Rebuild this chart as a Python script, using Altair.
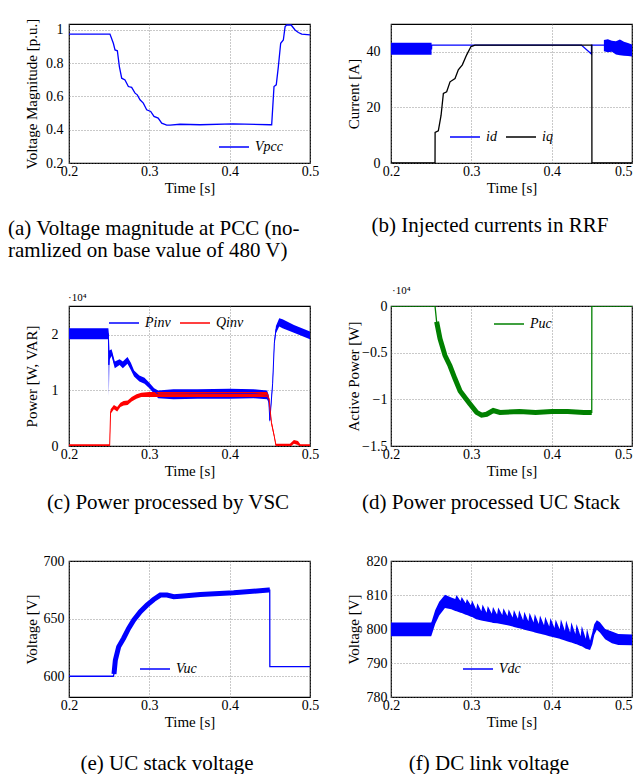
import altair as alt
import pandas as pd

FONT = "Liberation Serif"
XT = [0.2, 0.3, 0.4, 0.5]

# (a) voltage magnitude at PCC [p.u.]
va_t = [0.2, 0.251, 0.2552, 0.2573, 0.2602, 0.2627, 0.2656, 0.2697, 0.2739, 0.278, 0.2822, 0.285,
        0.2884, 0.2925, 0.2967, 0.3017, 0.3058, 0.311, 0.3154, 0.3216, 0.3258, 0.3382, 0.3631, 0.404,
        0.4503, 0.4523, 0.4552, 0.458, 0.4606, 0.4635, 0.4668, 0.469, 0.471, 0.4765, 0.4814, 0.4855,
        0.4897, 0.5]
va_v = [0.975, 0.975, 0.92, 0.88, 0.875, 0.78, 0.71, 0.70, 0.66, 0.655, 0.62, 0.61,
        0.58, 0.56, 0.52, 0.51, 0.48, 0.47, 0.44, 0.428, 0.428, 0.433, 0.43, 0.435,
        0.43, 0.43, 0.66, 0.67, 0.78, 0.92, 0.94, 1.02, 1.03, 1.03, 1.0, 0.985,
        0.975, 0.97]

# (b) currents in RRF [A]
id_t = [0.2, 0.2505, 0.2506, 0.4370, 0.4495, 0.4496, 0.4650, 0.5]
id_v = [41.1, 41.1, 42.4, 42.4, 39.2, 42.4, 42.4, 41.6]
idr_seg = ["a", "a", "b", "b", "b", "b", "b", "b", "b", "b"]
idr_t = [0.2, 0.2505, 0.465, 0.47, 0.475, 0.48, 0.485, 0.49, 0.495, 0.5]
idr_lo = [38.9, 38.9, 40.2, 39.8, 40.0, 39.0, 38.8, 38.6, 38.5, 38.3]
idr_hi = [43.3, 43.3, 44.2, 44.5, 44.0, 43.8, 44.4, 43.6, 43.2, 42.6]
iq_t = [0.2, 0.2548, 0.2549, 0.2589, 0.2623, 0.2652, 0.2693, 0.2735, 0.2797, 0.2838, 0.2888,
        0.2942, 0.2996, 0.3046, 0.4500, 0.4501, 0.5]
iq_v = [0, 0, 11.0, 11.6, 17.1, 25.0, 25.6, 29.2, 30.4, 33.5, 35.3, 38.9, 41.9, 42.4, 42.4, 0, 0]

# (c) power processed by VSC [x10^4 W, VAR]
p_t = [0.2, 0.249, 0.2496, 0.2503, 0.253, 0.257, 0.263, 0.267, 0.2728, 0.277, 0.281, 0.2876,
       0.294, 0.300, 0.306, 0.311, 0.330, 0.360, 0.400, 0.430, 0.4465, 0.4486, 0.4500, 0.4535,
       0.4556, 0.4576, 0.4617, 0.4658, 0.480, 0.490, 0.5]
p_lo = [1.92, 1.92, 0.90, 1.55, 1.62, 1.40, 1.46, 1.40, 1.48, 1.37, 1.25, 1.16, 1.12, 1.04, 0.94,
        0.86, 0.84, 0.85, 0.85, 0.86, 0.84, 0.78, 0.42, 1.08, 1.80, 2.03, 2.15, 2.12, 2.04, 1.98, 1.92]
p_hi = [2.12, 2.12, 2.02, 1.72, 1.74, 1.52, 1.56, 1.52, 1.60, 1.50, 1.36, 1.27, 1.23, 1.14, 1.04,
        1.00, 1.02, 1.02, 1.03, 1.02, 1.00, 0.92, 0.50, 1.18, 1.90, 2.16, 2.30, 2.28, 2.18, 2.12, 2.06]
q_t = [0.2, 0.2506, 0.2518, 0.2559, 0.2600, 0.2640, 0.2680, 0.2730, 0.2780, 0.2840, 0.2900, 0.3000,
       0.3500, 0.4000, 0.4465, 0.4490, 0.4520, 0.4556, 0.4576, 0.4750, 0.4800, 0.4850, 0.4880, 0.5]
q_lo = [-0.02, -0.02, 0.58, 0.66, 0.62, 0.70, 0.73, 0.74, 0.80, 0.85, 0.88, 0.88, 0.88, 0.88, 0.88,
        0.81, 0.38, 0.14, -0.02, -0.02, 0.04, 0.02, -0.02, -0.02]
q_hi = [0.03, 0.03, 0.66, 0.74, 0.70, 0.78, 0.81, 0.82, 0.88, 0.93, 0.96, 0.97, 0.97, 0.97, 0.97,
        0.89, 0.46, 0.20, 0.04, 0.04, 0.11, 0.09, 0.03, 0.03]

# (d) power processed by UC stack [x10^4 W]
puc_t = [0.2, 0.2548, 0.2568, 0.2610, 0.2672, 0.2734, 0.2797, 0.2860, 0.2921, 0.2983, 0.3066, 0.3128,
         0.3190, 0.3273, 0.3356, 0.3600, 0.3800, 0.4000, 0.4200, 0.4400, 0.4499, 0.4500, 0.5]
puc_v = [0, 0, -0.17, -0.35, -0.53, -0.64, -0.78, -0.91, -0.98, -1.05, -1.14, -1.17,
         -1.16, -1.12, -1.14, -1.13, -1.14, -1.13, -1.13, -1.14, -1.14, 0, 0]

# (e) UC stack voltage [V]
vuc_t = [0.2, 0.2552, 0.2560, 0.2577, 0.2618, 0.268, 0.2742, 0.2805, 0.2888, 0.297, 0.3054, 0.3137,
         0.322, 0.3303, 0.3386, 0.3635, 0.405, 0.4485, 0.4499, 0.4500, 0.5]
vuc_v = [600, 600, 602, 614, 625.5, 633, 641.5, 648.7, 656, 661.7, 666.6, 670.4,
         670.4, 669, 669.5, 671, 672.4, 674.8, 674.8, 608.4, 608.4]

# (f) DC link voltage [V]: ripple band (lower / upper envelope, with the upper spikes)
vdc_t = [0.2, 0.25, 0.2507, 0.255, 0.26, 0.2672, 0.275,
         0.2800, 0.2815, 0.2865, 0.2880, 0.2930, 0.2945, 0.2995, 0.3010, 0.3060, 0.3075,
         0.3125, 0.3140, 0.3190, 0.3205, 0.3255, 0.3270, 0.3320, 0.3335, 0.3385, 0.3400,
         0.3450, 0.3465, 0.3515, 0.3530, 0.3580, 0.3595, 0.3645, 0.3660, 0.3710, 0.3725,
         0.3775, 0.3790, 0.3840, 0.3855, 0.3905, 0.3920, 0.3970, 0.3985, 0.4035, 0.4050,
         0.4100, 0.4115, 0.4165, 0.4180, 0.4230, 0.4245, 0.4295, 0.4310, 0.4360, 0.4375,
         0.4425, 0.4440,
         0.4478, 0.4506, 0.4530, 0.4562, 0.4600, 0.4666, 0.4750, 0.4830, 0.5]
vdc_hi = [801.9, 801.9, 802.3, 805.5, 808.0, 810.1, 809.3,
          808.8, 810.0, 808.2, 809.4, 807.6, 808.8, 807.0, 808.4, 805.8, 807.6,
          805.2, 807.2, 804.8, 806.8, 804.5, 806.5, 804.3, 806.3, 804.1, 806.1,
          803.8, 805.8, 803.4, 805.6, 803.0, 805.5, 802.6, 805.1, 802.3, 804.8,
          801.9, 804.4, 801.5, 804.0, 801.1, 803.6, 800.7, 803.2, 800.3, 802.8,
          799.9, 802.9, 799.5, 802.5, 799.0, 802.0, 798.5, 801.5, 797.9, 800.9,
          797.1, 800.1,
          796.6, 799.0, 801.4, 802.6, 802.0, 800.0, 799.3, 798.5, 798.4]
vdc_lo = [797.9, 797.9, 798.3, 801.5, 804.0, 806.2, 805.8,
          805.3, 805.2, 804.8, 804.7, 804.2, 804.1, 803.6, 803.5, 802.9, 802.8,
          802.5, 802.4, 802.2, 802.1, 801.9, 801.8, 801.7, 801.6, 801.4, 801.3,
          801.1, 801.0, 800.7, 800.6, 800.3, 800.2, 799.9, 799.8, 799.5, 799.4,
          799.1, 799.0, 798.7, 798.6, 798.3, 798.2, 797.9, 797.8, 797.5, 797.4,
          797.1, 797.0, 796.6, 796.5, 796.1, 796.0, 795.6, 795.5, 795.0, 794.9,
          794.2, 794.1,
          793.8, 795.5, 798.2, 799.8, 799.0, 797.0, 795.8, 795.3, 795.2]

captions = [
    "(a) Voltage magnitude at PCC (no-\nramlized on base value of 480 V)",
    "(b) Injected currents in RRF",
    "(c) Power processed by VSC",
    "(d) Power processed UC Stack",
    "(e) UC stack voltage",
    "(f) DC link voltage",
]

W = 241


def X(right=False):
    kw = dict(title="Time [s]", values=XT, format=".1f", labelPadding=1,
              minExtent=17, maxExtent=17, titlePadding=0)
    if right:
        kw["labelAlign"] = {"condition": {"test": "datum.value > 0.45", "value": "right"},
                            "value": "center"}
    return alt.X("t:Q", scale=alt.Scale(domain=[0.2, 0.5], nice=False, zero=False),
                 axis=alt.Axis(**kw))


def Y(field, dom, vals, title, pad):
    return alt.Y(field, scale=alt.Scale(domain=dom, nice=False, zero=False),
                 axis=alt.Axis(title=title, values=vals, format="~f", labelPadding=pad,
                               minExtent=27, maxExtent=27, titlePadding=3))


def leg(x, y, horizontal=False):
    kw = dict(orient="none", legendX=x, legendY=y, title=None)
    if horizontal:
        kw.update(direction="horizontal", columns=2)
    return alt.Legend(**kw)


def exp_title(dx):
    return alt.Title("·10⁴", anchor="start", frame="group", fontSize=11, font=FONT,
                     fontWeight="normal", offset=3, dx=dx)


# ---- panel a
dfa = pd.DataFrame({"t": va_t, "v": va_v, "s": "Vpcc"})
pa = alt.Chart(dfa).mark_line(clip=True, strokeWidth=1.3).encode(
    x=X(), y=Y("v:Q", [0.2, 1.036], [0.2, 0.4, 0.6, 0.8, 1.0], "Voltage Magnitude [p.u.]", 6),
    color=alt.Color("s:N", scale=alt.Scale(domain=["Vpcc"], range=["#0000ff"]), legend=leg(149, 107)),
).properties(width=W, height=139)

# ---- panel b
ya = lambda f: Y(f, [0, 50], [0, 20, 40], "Current [A]", 11)
dfr = pd.DataFrame({"t": idr_t, "lo": idr_lo, "hi": idr_hi, "seg": idr_seg})
dfi = pd.concat([pd.DataFrame({"t": id_t, "v": id_v, "s": "id"}),
                 pd.DataFrame({"t": iq_t, "v": iq_v, "s": "iq"})])
b_band = alt.Chart(dfr).mark_area(clip=True, color="#0000ff").encode(
    x=X(True), y=ya("lo:Q"), y2="hi:Q", detail="seg:N")
b_lines = alt.Chart(dfi).mark_line(clip=True, strokeWidth=1.3).encode(
    x=X(True), y=ya("v:Q"),
    color=alt.Color("s:N", scale=alt.Scale(domain=["id", "iq"], range=["#0000ff", "black"]),
                    legend=leg(58, 97, True)),
)
pb = alt.layer(b_band, b_lines).properties(width=W, height=139)

# ---- panel c
yc = lambda f: Y(f, [0, 2.52], [0, 1, 2], "Power [W, VAR]", 11)
dfc = pd.concat([pd.DataFrame({"t": p_t, "lo": p_lo, "hi": p_hi, "s": "Pinv"}),
                 pd.DataFrame({"t": q_t, "lo": q_lo, "hi": q_hi, "s": "Qinv"})])
cscale = alt.Scale(domain=["Pinv", "Qinv"], range=["#0000ff", "#ff0000"])
c_band_p = alt.Chart(dfc).transform_filter("datum.s == 'Pinv'").mark_area(
    clip=True, color="#0000ff").encode(x=X(), y=yc("lo:Q"), y2="hi:Q")
c_band_q = alt.Chart(dfc).transform_filter("datum.s == 'Qinv'").mark_area(
    clip=True, color="#ff0000").encode(x=X(), y=yc("lo:Q"), y2="hi:Q")
c_line = alt.Chart(dfc).transform_calculate(m="(datum.lo + datum.hi) / 2").mark_line(
    clip=True, strokeWidth=1).encode(
    x=X(), y=yc("m:Q"),
    color=alt.Color("s:N", scale=cscale, legend=leg(39, 1, True)))
pc = alt.layer(c_band_p, c_band_q, c_line).properties(width=W, height=140, title=exp_title(-1))

# ---- panel d
yd = lambda f: Y(f, [-1.5, 0], [-1.5, -1, -0.5, 0], "Active Power [W]", 4)
dfd = pd.DataFrame({"t": puc_t, "v": puc_v, "s": "Puc"})
dscale = alt.Scale(domain=["Puc"], range=["#008000"])
d_thin = alt.Chart(dfd).mark_line(clip=True, strokeWidth=1.3).encode(
    x=X(True), y=yd("v:Q"), color=alt.Color("s:N", scale=dscale, legend=leg(102, 2)))
d_thick = alt.Chart(dfd).transform_filter("datum.t > 0.2549 && datum.t < 0.44995").mark_line(
    clip=True, strokeWidth=5, color="#008000").encode(x=X(True), y=yd("v:Q"))
pdd = alt.layer(d_thin, d_thick).properties(width=W, height=140, title=exp_title(1))

# ---- panel e
ye = lambda f: Y(f, [582, 700], [600, 650, 700], "Voltage [V]", 5)
dfe = pd.DataFrame({"t": vuc_t, "v": vuc_v, "s": "Vuc"})
escale = alt.Scale(domain=["Vuc"], range=["#0000ff"])
e_thin = alt.Chart(dfe).mark_line(clip=True, strokeWidth=1.3).encode(
    x=X(), y=ye("v:Q"), color=alt.Color("s:N", scale=escale, legend=leg(70, 92)))
e_thick = alt.Chart(dfe).transform_filter("datum.t > 0.2553 && datum.t < 0.44995").mark_line(
    clip=True, strokeWidth=5, color="#0000ff").encode(x=X(), y=ye("v:Q"))
pe = alt.layer(e_thin, e_thick).properties(width=W, height=136)

# ---- panel f
yf = lambda f: Y(f, [780, 820], [780, 790, 800, 810, 820], "Voltage [V]", 4)
dff = pd.DataFrame({"t": vdc_t, "lo": vdc_lo, "hi": vdc_hi, "s": "Vdc"})
fscale = alt.Scale(domain=["Vdc"], range=["#0000ff"])
f_band = alt.Chart(dff).mark_area(clip=True, color="#0000ff").encode(
    x=X(True), y=yf("lo:Q"), y2="hi:Q")
f_line = alt.Chart(dff).transform_calculate(m="(datum.lo + datum.hi) / 2").mark_line(
    clip=True, strokeWidth=1).encode(
    x=X(True), y=yf("m:Q"), color=alt.Color("s:N", scale=fscale, legend=leg(71, 92)))
pf = alt.layer(f_band, f_line).properties(width=W, height=136)


# ---- captions (spacer cells)
def cap(i, x, align, y, h):
    df = pd.DataFrame({"cap": [captions[i]]})
    return alt.Chart(df).mark_text(
        align=align, baseline="alphabetic", font=FONT, fontSize=21, lineHeight=22,
        lineBreak="\n", color="black").encode(
        text="cap:N", x=alt.value(x), y=alt.value(y)
    ).properties(width=W, height=h, view=alt.ViewBackground(strokeOpacity=0))


ca = cap(0, -61, "left", 72, 143)
cb = cap(1, 99, "center", 69, 143)
cc = cap(2, 99, "center", 63, 115)
cd = cap(3, 100, "center", 63, 115)
ce = cap(4, 98, "center", 73, 20)
cf = cap(5, 98, "center", 73, 20)

chart = alt.concat(
    pa, pb, ca, cb, pc, pdd, cc, cd, pe, pf, ce, cf,
    columns=2, spacing={"row": 0, "column": 81}, bounds="flush", align="each",
).resolve_scale(
    color="independent",
).resolve_legend(
    color="independent",
).properties(
    padding={"left": 0, "top": 9, "right": 0, "bottom": 0},
    background="white",
).configure_view(
    stroke="black", strokeWidth=1.2,
).configure_axis(
    labelFont=FONT, titleFont=FONT, labelFontSize=14, titleFontSize=15,
    titleFontWeight="normal", labelColor="black", titleColor="black",
    domain=False, ticks=False, tickSize=0, grid=True, gridDash=[1, 2],
    gridColor="#777777", gridWidth=0.8, labelFlush=False, labelOverlap=False,
).configure_legend(
    labelFont=FONT, labelFontSize=14, labelFontStyle="italic", labelColor="black",
    symbolType="stroke", symbolSize=900, symbolStrokeWidth=1.5, padding=0,
    labelOffset=5, columnPadding=6, rowPadding=0,
)

chart.save("out.html", embed_options={"renderer": "svg", "actions": False})
